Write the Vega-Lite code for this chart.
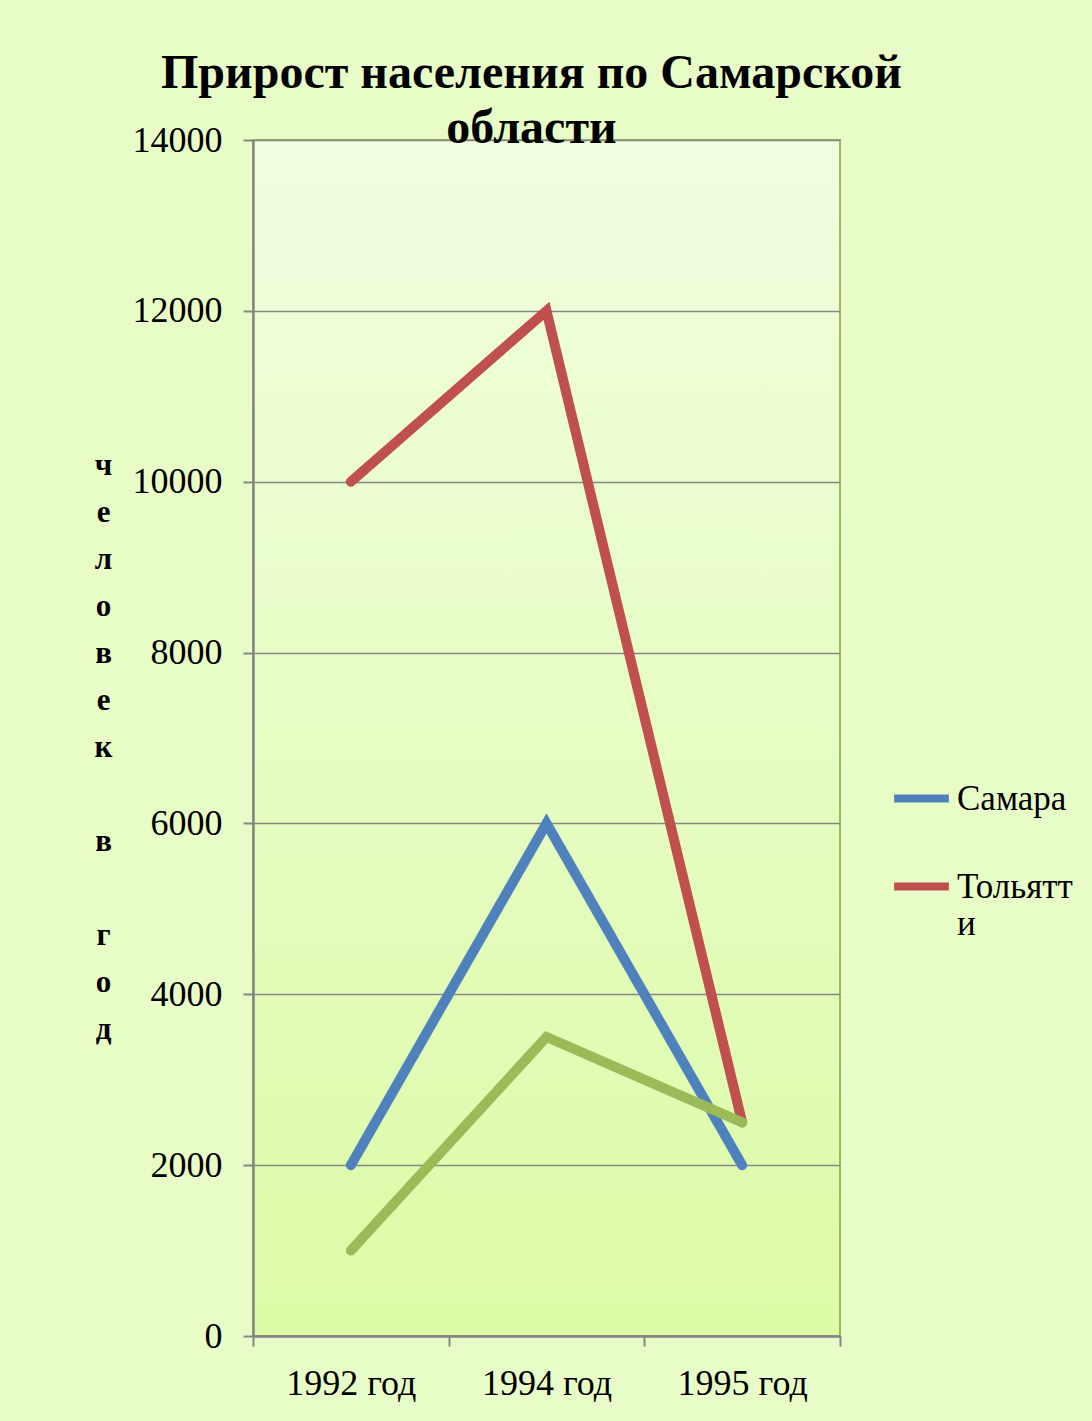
{
  "$schema": "https://vega.github.io/schema/vega-lite/v6.json",
  "autosize": "none",
  "width": 587,
  "height": 1196,
  "padding": {"left": 253, "top": 140, "right": 252, "bottom": 85},
  "background": "#e8fcc8",
  "title": {
    "text": ["Прирост населения по Самарской", "области"],
    "font": "Liberation Serif",
    "fontSize": 48,
    "fontWeight": "bold",
    "color": "#000000",
    "lineHeight": 55,
    "anchor": "middle",
    "frame": "group",
    "dx": -15,
    "offset": -31
  },
  "data": {
    "values": [
      {"year": "1992 год", "city": "Самара", "value": 2000},
      {"year": "1994 год", "city": "Самара", "value": 6000},
      {"year": "1995 год", "city": "Самара", "value": 2000},
      {"year": "1992 год", "city": "Тольятти", "value": 10000},
      {"year": "1994 год", "city": "Тольятти", "value": 12000},
      {"year": "1995 год", "city": "Тольятти", "value": 2500},
      {"year": "1992 год", "city": "Сызрань", "value": 1000},
      {"year": "1994 год", "city": "Сызрань", "value": 3500},
      {"year": "1995 год", "city": "Сызрань", "value": 2500}
    ]
  },
  "mark": {"type": "line", "strokeWidth": 10, "strokeCap": "round", "strokeJoin": "miter"},
  "encoding": {
    "x": {
      "field": "year",
      "type": "nominal",
      "bandPosition": 0.5,
      "scale": {"type": "band", "paddingInner": 0, "paddingOuter": 0},
      "axis": {
        "title": null,
        "labelAngle": 0,
        "tickBand": "extent",
        "labelFont": "Liberation Serif",
        "labelFontSize": 36,
        "labelColor": "#000000",
        "labelPadding": 20,
        "tickSize": 10,
        "tickColor": "#868686",
        "tickWidth": 2,
        "domainColor": "#868686",
        "domainWidth": 2.5,
        "grid": false
      }
    },
    "y": {
      "field": "value",
      "type": "quantitative",
      "scale": {"domain": [0, 14000], "nice": false},
      "axis": {
        "values": [0, 2000, 4000, 6000, 8000, 10000, 12000, 14000],
        "format": "d",
        "labelFont": "Liberation Serif",
        "labelFontSize": 36,
        "labelColor": "#000000",
        "labelPadding": 21,
        "tickSize": 10,
        "tickColor": "#868686",
        "tickWidth": 2,
        "domainColor": "#868686",
        "domainWidth": 2.5,
        "grid": true,
        "gridColor": "#868686",
        "gridWidth": 1.5,
        "title": ["ч", "е", "л", "о", "в", "е", "к", "\u2800", "в", "\u2800", "г", "о", "д"],
        "titleAngle": 0,
        "titleFont": "Liberation Serif",
        "titleFontSize": 31,
        "titleFontWeight": "bold",
        "titleColor": "#000000",
        "titleLineHeight": 47,
        "titleAlign": "center",
        "titleBaseline": "middle",
        "titleX": -150,
        "titleY": 325
      }
    },
    "color": {
      "field": "city",
      "type": "nominal",
      "scale": {
        "domain": ["Самара", "Тольятти", "Сызрань"],
        "range": ["#4f81bd", "#c0504d", "#9bbb59"]
      },
      "legend": {
        "values": ["Самара", "Тольятти"],
        "title": null,
        "orient": "none",
        "legendX": 637,
        "legendY": 627,
        "padding": 0,
        "symbolType": "stroke",
        "symbolSize": 3000,
        "symbolStrokeWidth": 8,
        "labelFont": "Liberation Serif",
        "labelFontSize": 35,
        "labelColor": "#000000",
        "labelOffset": 4,
        "labelLimit": 300,
        "labelLineHeight": 42,
        "labelBaseline": "middle",
        "labelExpr": "datum.label == 'Тольятти' ? ['Тольятт', 'и'] : datum.label",
        "rowPadding": 38
      }
    }
  },
  "config": {
    "view": {
      "stroke": "#9bbb59",
      "strokeWidth": 2,
      "fill": {
        "gradient": "linear",
        "x1": 0, "y1": 0, "x2": 0, "y2": 1,
        "stops": [
          {"offset": 0, "color": "#f1fee0"},
          {"offset": 1, "color": "#dcfba6"}
        ]
      }
    }
  }
}
